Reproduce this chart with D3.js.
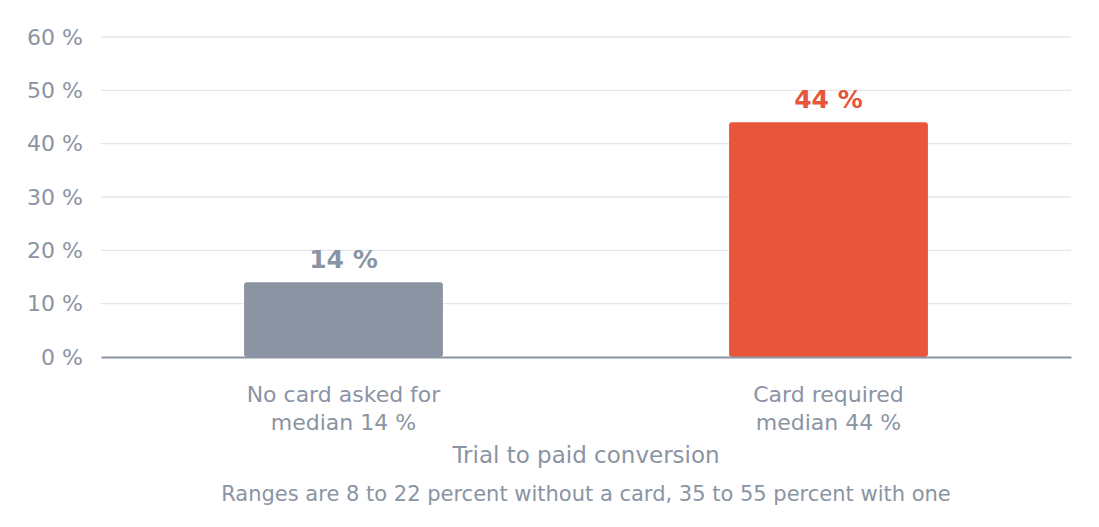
<!DOCTYPE html>
<html>
<head>
<meta charset="utf-8">
<script src="https://cdn.jsdelivr.net/npm/d3@7"></script>
<style>
  body { margin: 0; background: #fff; }
  svg text { font-family: "DejaVu Sans", sans-serif; }
</style>
</head>
<body>
<svg id="chart"></svg>
<script>
// donnees
const categories = ['No card asked for', 'Card required']
const subLabels = ['median 14 %', 'median 44 %']
const values = [14, 44]
const barColors = ['#8a94a3', '#e8553b']
const yTicks = [0, 10, 20, 30, 40, 50, 60]

const width = 1099, height = 527
const margin = {top: 37, right: 28, bottom: 170, left: 101}
const textColor = '#8a94a3'

const svg = d3.select('#chart')
  .attr('width', width)
  .attr('height', height)

const xScale = d3.scaleBand()
  .domain(categories)
  .range([margin.left, width - margin.right])
  .paddingInner(0.59)
  .paddingOuter(0.295)

const yScale = d3.scaleLinear()
  .domain([0, 60])
  .range([height - margin.bottom, margin.top])

/* grille horizontale */
svg.append('g')
  .selectAll('line')
  .data(yTicks.filter(d => d > 0))
  .enter()
  .append('line')
  .attr('x1', margin.left)
  .attr('x2', width - margin.right)
  .attr('y1', d => yScale(d))
  .attr('y2', d => yScale(d))
  .attr('stroke', '#e4e6ea')
  .attr('stroke-width', 1.3)

/* axe des y */
const yAxis = d3.axisLeft(yScale)
  .tickValues(yTicks)
  .tickFormat(d => d + ' %')
  .tickSize(0)
  .tickPadding(18)

svg.append('g')
  .attr('transform', 'translate(' + margin.left + ',0)')
  .call(yAxis)
  .call(g => g.select('.domain').remove())
  .call(g => g.selectAll('text')
    .attr('fill', textColor)
    .style('font-size', '22px')
    .style('font-family', '"DejaVu Sans", sans-serif'))

/* barres */
svg.selectAll('rect.bar')
  .data(values)
  .enter()
  .append('rect')
  .attr('class', 'bar')
  .attr('x', (d, i) => xScale(categories[i]))
  .attr('width', xScale.bandwidth())
  .attr('y', d => yScale(d))
  .attr('height', d => yScale(0) - yScale(d))
  .attr('rx', 3)
  .attr('fill', (d, i) => barColors[i])

/* valeurs au dessus des barres */
svg.selectAll('text.val')
  .data(values)
  .enter()
  .append('text')
  .attr('class', 'val')
  .attr('x', (d, i) => xScale(categories[i]) + xScale.bandwidth() / 2)
  .attr('y', d => yScale(d) - 14)
  .attr('text-anchor', 'middle')
  .attr('fill', (d, i) => barColors[i])
  .style('font-size', '25px')
  .style('font-weight', 'bold')
  .text(d => d + ' %')

/* axe des x (ligne de base) */
const xAxis = d3.axisBottom(xScale).tickSize(0).tickFormat('')
svg.append('g')
  .attr('transform', 'translate(0,' + yScale(0) + ')')
  .call(xAxis)
  .call(g => g.select('.domain')
    .attr('stroke', textColor)
    .attr('stroke-width', 2))

/* libelles des categories */
const catLabels = svg.selectAll('text.cat')
  .data(categories)
  .enter()
  .append('text')
  .attr('class', 'cat')
  .attr('text-anchor', 'middle')
  .attr('fill', textColor)
  .style('font-size', '22px')

catLabels.append('tspan')
  .attr('x', d => xScale(d) + xScale.bandwidth() / 2)
  .attr('y', 402)
  .text(d => d)

catLabels.append('tspan')
  .attr('x', d => xScale(d) + xScale.bandwidth() / 2)
  .attr('y', 430)
  .text((d, i) => subLabels[i])

/* titre de l'axe x */
svg.append('text')
  .attr('x', (margin.left + width - margin.right) / 2)
  .attr('y', 463)
  .attr('text-anchor', 'middle')
  .attr('fill', textColor)
  .style('font-size', '23px')
  .text('Trial to paid conversion')

/* note */
svg.append('text')
  .attr('x', 586)
  .attr('y', 501)
  .attr('text-anchor', 'middle')
  .attr('fill', textColor)
  .style('font-size', '21px')
  .text('Ranges are 8 to 22 percent without a card, 35 to 55 percent with one')
</script>
</body>
</html>
